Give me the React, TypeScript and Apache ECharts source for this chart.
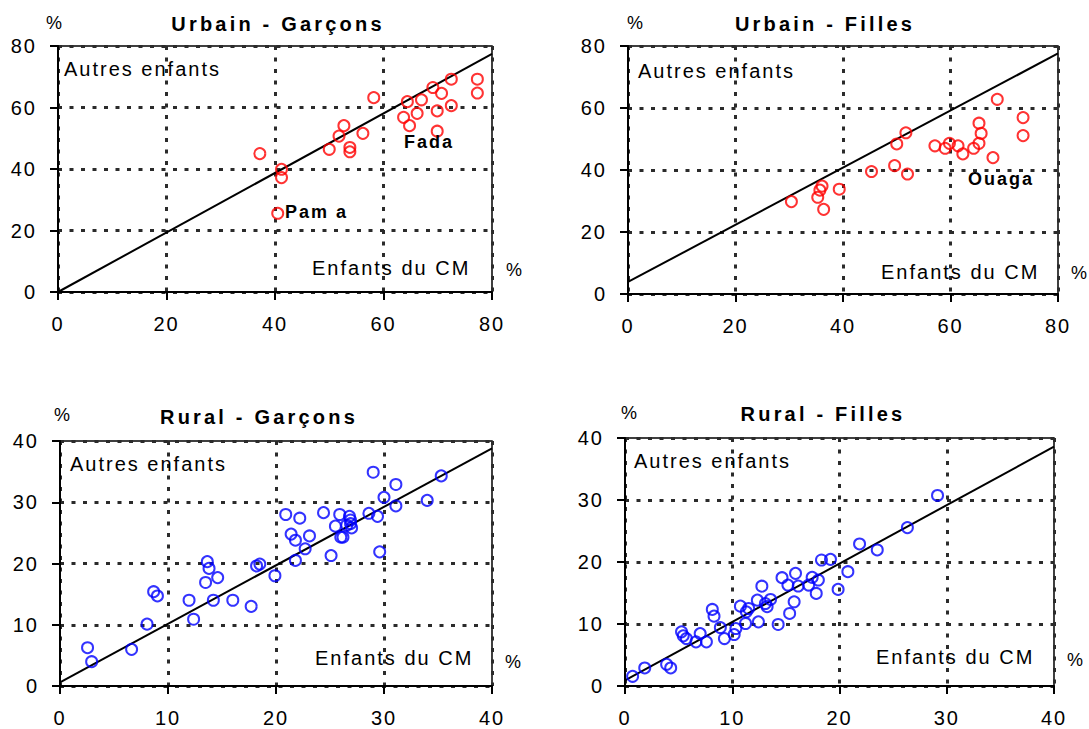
import React, { useEffect, useRef } from "react";
import * as echarts from "echarts";

// ---- Data ----
const titles = ["Urbain - Garçons", "Urbain - Filles", "Rural - Garçons", "Rural - Filles"];
const urbanTicks = [0, 20, 40, 60, 80];
const ruralTicks = [0, 10, 20, 30, 40];

// Urbain - Garçons
const ugX = [37.2, 41.2, 41.2, 40.5, 50.0, 51.8, 52.7, 53.8, 53.8, 56.2, 58.2, 63.7, 64.4, 64.8, 66.2, 67.0, 69.1, 69.9, 69.9, 70.7, 72.5, 72.5, 77.3, 77.3];
const ugY = [45.0, 39.9, 37.2, 25.6, 46.4, 50.7, 54.1, 47.0, 45.6, 51.6, 63.2, 56.8, 61.9, 54.1, 58.1, 62.5, 66.5, 58.9, 52.3, 64.6, 69.2, 60.6, 69.2, 64.7];
// Urbain - Filles
const ufX = [30.4, 35.3, 35.7, 36.1, 36.4, 39.3, 45.3, 49.6, 50.0, 51.7, 52.0, 57.1, 59.0, 59.8, 61.4, 62.3, 64.3, 65.3, 65.7, 65.3, 67.9, 68.7, 73.5, 73.5];
const ufY = [29.8, 31.2, 33.5, 34.8, 27.3, 33.8, 39.5, 41.4, 48.4, 52.0, 38.7, 47.8, 47.0, 48.6, 47.8, 45.2, 47.0, 48.6, 51.8, 55.1, 44.0, 62.8, 56.9, 51.1];
// Rural - Garçons
const rgX = [2.55, 2.93, 6.63, 8.06, 8.67, 9.02, 11.95, 12.37, 13.48, 13.64, 13.8, 14.2, 14.6, 16.0, 17.7, 18.2, 18.5, 19.9, 20.9, 21.4, 21.8, 21.8, 22.2, 22.7, 23.1, 24.4, 25.1, 25.5, 25.9, 26.0, 26.2, 26.55, 26.8, 26.9, 26.9, 27.0, 28.6, 29.0, 29.4, 29.6, 30.0, 31.1, 31.1, 34.0, 35.3];
const rgY = [6.25, 3.97, 5.98, 10.1, 15.4, 14.7, 14.0, 10.9, 16.9, 20.3, 19.2, 14.0, 17.7, 14.0, 13.0, 19.6, 19.9, 18.0, 28.0, 24.8, 23.8, 20.5, 27.4, 22.4, 24.5, 28.3, 21.3, 26.1, 28.0, 24.3, 24.3, 26.25, 27.7, 27.1, 26.5, 25.8, 28.2, 34.9, 27.7, 21.9, 30.8, 32.9, 29.4, 30.3, 34.3];
// Rural - Filles
const rfX = [0.71, 1.84, 3.88, 4.26, 5.27, 5.43, 5.72, 6.62, 7.01, 7.59, 8.14, 8.3, 8.89, 9.27, 10.18, 10.34, 10.76, 11.24, 11.31, 11.53, 12.34, 12.44, 12.76, 13.09, 13.25, 13.57, 14.28, 14.64, 15.19, 15.35, 15.77, 15.9, 16.15, 17.12, 17.45, 17.83, 18.03, 18.32, 19.16, 19.87, 20.78, 21.87, 23.52, 26.33, 29.14];
const rfY = [1.56, 2.91, 3.5, 2.91, 8.73, 8.09, 7.65, 7.12, 8.46, 7.12, 12.35, 11.27, 9.43, 7.65, 8.3, 9.27, 12.88, 10.08, 11.97, 12.5, 13.85, 10.35, 16.1, 13.3, 12.8, 13.96, 9.92, 17.47, 16.28, 11.7, 13.58, 18.17, 16.12, 16.28, 17.52, 14.93, 17.09, 20.32, 20.43, 15.58, 18.44, 22.91, 21.94, 25.55, 30.73];

// Reference lines (endpoints)
const urbanLineX = [0, 80];
const ugLineY = [0, 77.4];
const ufLineY = [3.9, 77.6];
const ruralLineX = [0, 40];
const rgLineY = [0.6, 38.8];
const rfLineY = [0.9, 38.6];

const FONT = '"Liberation Sans", Arial, Helvetica, sans-serif';
const RED = "#ff0000";
const BLUE = "#0000ff";

const grids = [
  { left: 58, top: 46, width: 434, height: 246 },
  { left: 628, top: 46, width: 430, height: 248 },
  { left: 60, top: 441, width: 432, height: 245 },
  { left: 625, top: 438, width: 429, height: 248 },
];

const dotted = { type: [4, 7.5], width: 3, color: "#2b2b2b" };

function axis(gridIndex: number, ticks: number[], isX: boolean) {
  return {
    type: "value",
    gridIndex,
    min: ticks[0],
    max: ticks[ticks.length - 1],
    interval: ticks[1] - ticks[0],
    axisLine: { show: true, onZero: false, lineStyle: { color: "#000", width: 2 } },
    axisTick: { show: true, inside: false, length: 8, lineStyle: { color: "#000", width: 2 } },
    axisLabel: {
      show: true,
      fontSize: 20,
      fontFamily: FONT,
      color: "#000",
      margin: isX ? 22 : 21,
    },
    splitLine: { show: true, lineStyle: dotted },
  };
}

function pairs(xs: number[], ys: number[]) {
  return xs.map((x, i) => [x, ys[i]]);
}

function txt(x: number, y: number, text: string, font: string, align = "left") {
  return {
    type: "text",
    x,
    y,
    z: 100,
    style: { text, font, fill: "#000", textAlign: align, verticalAlign: "middle", textVerticalAlign: "middle" },
  };
}

const TITLE_FONT = `bold 20px ${FONT}`;
const NOTE_FONT = `20px ${FONT}`;
const PCT_FONT = `18px ${FONT}`;
const CITY_FONT = `bold 18px ${FONT}`;

export default function App() {
  const ref = useRef<HTMLDivElement>(null);
  useEffect(() => {
    if (!ref.current) return;
    const chart = echarts.init(ref.current, undefined, { renderer: "svg" });
    const scatter = (i: number, xs: number[], ys: number[], color: string) => ({
      type: "scatter",
      xAxisIndex: i,
      yAxisIndex: i,
      data: pairs(xs, ys),
      symbol: "circle",
      symbolSize: 11,
      itemStyle: { color: "rgba(0,0,0,0)", borderColor: color, borderWidth: 2 },
      z: 5,
      silent: true,
    });
    const line = (i: number, xs: number[], ys: number[]) => ({
      type: "line",
      xAxisIndex: i,
      yAxisIndex: i,
      data: pairs(xs, ys),
      showSymbol: false,
      symbol: "none",
      lineStyle: { color: "#000", width: 2 },
      z: 4,
      silent: true,
    });
    chart.setOption({
      animation: false,
      backgroundColor: "#fff",
      grid: grids.map((g) => ({ ...g, show: true, borderColor: "#000", borderWidth: 1.5, backgroundColor: "transparent" })),
      xAxis: [axis(0, urbanTicks, true), axis(1, urbanTicks, true), axis(2, ruralTicks, true), axis(3, ruralTicks, true)],
      yAxis: [axis(0, urbanTicks, false), axis(1, urbanTicks, false), axis(2, ruralTicks, false), axis(3, ruralTicks, false)],
      series: [
        line(0, urbanLineX, ugLineY),
        scatter(0, ugX, ugY, RED),
        line(1, urbanLineX, ufLineY),
        scatter(1, ufX, ufY, RED),
        line(2, ruralLineX, rgLineY),
        scatter(2, rgX, rgY, BLUE),
        line(3, ruralLineX, rfLineY),
        scatter(3, rfX, rfY, BLUE),
      ],
      graphic: [
        // Panel 1
        txt(278, 24, titles[0], TITLE_FONT, "center"),
        txt(55, 23, "%", PCT_FONT, "center"),
        txt(64, 69, "Autres enfants", NOTE_FONT),
        txt(312, 268, "Enfants du CM", NOTE_FONT),
        txt(515, 270, "%", PCT_FONT, "center"),
        txt(404, 142, "Fada", CITY_FONT),
        txt(285, 212, "Pam a", CITY_FONT),
        // Panel 2
        txt(825, 24, titles[1], TITLE_FONT, "center"),
        txt(636, 23, "%", PCT_FONT, "center"),
        txt(638, 71, "Autres enfants", NOTE_FONT),
        txt(881, 272, "Enfants du CM", NOTE_FONT),
        txt(1080, 273, "%", PCT_FONT, "center"),
        txt(968, 179, "Ouaga", CITY_FONT),
        // Panel 3
        txt(259, 417, titles[2], TITLE_FONT, "center"),
        txt(63, 415, "%", PCT_FONT, "center"),
        txt(70, 464, "Autres enfants", NOTE_FONT),
        txt(315, 658, "Enfants du CM", NOTE_FONT),
        txt(514, 662, "%", PCT_FONT, "center"),
        // Panel 4
        txt(823, 414, titles[3], TITLE_FONT, "center"),
        txt(630, 413, "%", PCT_FONT, "center"),
        txt(634, 461, "Autres enfants", NOTE_FONT),
        txt(876, 657, "Enfants du CM", NOTE_FONT),
        txt(1076, 660, "%", PCT_FONT, "center"),
      ],
    });
    return () => chart.dispose();
  }, []);
  return (
    <>
      <style>{`
        #rk text { letter-spacing: 2px; }
        #rk text[style*="bold"] { letter-spacing: 3.2px; }
        #rk text[style*="bold"][style*="18px"] { letter-spacing: 2px; }
      `}</style>
      <div
        id="rk"
        ref={ref}
        style={{ position: "absolute", left: 0, top: 0, width: 1089, height: 729, background: "#fff" }}
      />
    </>
  );
}
